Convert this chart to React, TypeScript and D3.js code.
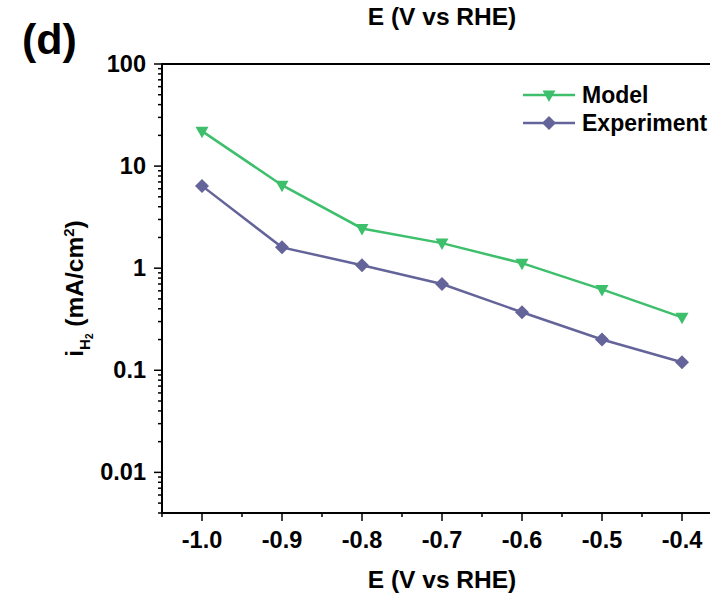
import React, { useEffect, useRef } from 'react';
import * as d3 from 'd3';

const potentials = [-1.0, -0.9, -0.8, -0.7, -0.6, -0.5, -0.4];
const modelValues = [22.0, 6.5, 2.45, 1.76, 1.12, 0.62, 0.33];
const experimentValues = [6.4, 1.6, 1.07, 0.7, 0.37, 0.2, 0.12];
const xTicks = [-1.0, -0.9, -0.8, -0.7, -0.6, -0.5, -0.4];
const yTicks = [0.01, 0.1, 1, 10, 100];
const yTickLabels = ['0.01', '0.1', '1', '10', '100'];

const App = () => {
  const svgRef = useRef<SVGSVGElement>(null);

  useEffect(() => {
    const width = 710;
    const height = 594;
    const green = '#3dbf6c';
    const purple = '#64649a';
    const font = '"Liberation Sans", Arial, sans-serif';

    const svg = d3.select(svgRef.current);
    svg.selectAll('*').remove();
    svg.attr('width', width).attr('height', height);

    const left = 162, right = 722, top = 64, bottom = 513;

    const x = d3.scaleLinear().domain([-1.05, -0.35]).range([left, right]);
    const y = d3.scaleLog().domain([0.004, 100]).range([bottom, top]);

    const g = svg.append('g');

    // frame lines (left, bottom, top)
    g.append('line').attr('x1', left).attr('x2', left).attr('y1', top).attr('y2', bottom)
      .attr('stroke', '#000').attr('stroke-width', 2);
    g.append('line').attr('x1', left - 1).attr('x2', right).attr('y1', bottom).attr('y2', bottom)
      .attr('stroke', '#000').attr('stroke-width', 2);
    g.append('line').attr('x1', left - 1).attr('x2', right).attr('y1', top).attr('y2', top)
      .attr('stroke', '#000').attr('stroke-width', 2);

    // y ticks
    const minorY: number[] = [];
    for (let e = -3; e < 2; e++) {
      for (let m = 2; m <= 9; m++) {
        const v = m * Math.pow(10, e);
        if (v >= 0.004 && v < 100) minorY.push(v);
      }
    }
    g.selectAll('.ymin').data(minorY).enter().append('line')
      .attr('x1', left - 4).attr('x2', left)
      .attr('y1', d => y(d)).attr('y2', d => y(d))
      .attr('stroke', '#000').attr('stroke-width', 1.5);
    g.selectAll('.ymaj').data(yTicks).enter().append('line')
      .attr('x1', left - 8).attr('x2', left)
      .attr('y1', d => y(d)).attr('y2', d => y(d))
      .attr('stroke', '#000').attr('stroke-width', 1.5);
    g.selectAll('.ylab').data(yTicks).enter().append('text')
      .attr('x', left - 16).attr('y', d => y(d) + 8)
      .attr('text-anchor', 'end')
      .style('font-family', font).style('font-weight', 'bold').style('font-size', '23.5px')
      .text((d, i) => yTickLabels[i]);

    // x ticks
    const minorX = xTicks.map(d => d - 0.05).concat([-0.35]);
    g.selectAll('.xmin').data(minorX).enter().append('line')
      .attr('x1', d => x(d)).attr('x2', d => x(d))
      .attr('y1', bottom).attr('y2', bottom + 4)
      .attr('stroke', '#000').attr('stroke-width', 1.5);
    g.selectAll('.xmaj').data(xTicks).enter().append('line')
      .attr('x1', d => x(d)).attr('x2', d => x(d))
      .attr('y1', bottom).attr('y2', bottom + 8)
      .attr('stroke', '#000').attr('stroke-width', 1.5);
    g.selectAll('.xlab').data(xTicks).enter().append('text')
      .attr('x', d => x(d)).attr('y', 548)
      .attr('text-anchor', 'middle')
      .style('font-family', font).style('font-weight', 'bold').style('font-size', '23.5px')
      .text(d => d3.format('.1f')(d).replace('−', '-'));

    // axis titles
    const mid = (left + right) / 2;
    g.append('text').attr('x', mid).attr('y', 588).attr('text-anchor', 'middle')
      .style('font-family', font).style('font-weight', 'bold').style('font-size', '24.5px')
      .text('E (V vs RHE)');
    g.append('text').attr('x', mid).attr('y', 25).attr('text-anchor', 'middle')
      .style('font-family', font).style('font-weight', 'bold').style('font-size', '24.5px')
      .text('E (V vs RHE)');

    const yl = g.append('text')
      .attr('transform', `translate(83, ${(top + bottom) / 2}) rotate(-90)`)
      .attr('text-anchor', 'middle')
      .style('font-family', font).style('font-weight', 'bold').style('font-size', '24.5px');
    yl.append('tspan').text('i');
    yl.append('tspan').attr('dy', 7).style('font-size', '15px').text('H');
    yl.append('tspan').attr('dy', 3).style('font-size', '10px').text('2');
    yl.append('tspan').attr('dy', -10).text(' (mA/cm');
    yl.append('tspan').attr('dy', -9).style('font-size', '15px').text('2');
    yl.append('tspan').attr('dy', 9).text(')');

    // panel label
    g.append('text').attr('x', 22).attr('y', 54)
      .style('font-family', font).style('font-weight', 'bold').style('font-size', '43px')
      .text('(d)');

    const line = d3.line<number>()
      .x((d, i) => x(potentials[i]))
      .y(d => y(d));

    const triangle = 'M-6.5,-4.5 L6.5,-4.5 L0,7 Z';
    const diamond = 'M0,-7 L7,0 L0,7 L-7,0 Z';

    const series = [
      { values: modelValues, color: green, shape: triangle, name: 'Model' },
      { values: experimentValues, color: purple, shape: diamond, name: 'Experiment' },
    ];

    series.forEach(s => {
      g.append('path').datum(s.values).attr('d', line)
        .attr('fill', 'none').attr('stroke', s.color).attr('stroke-width', 2.5);
      g.selectAll(null).data(s.values).enter().append('path')
        .attr('d', s.shape)
        .attr('transform', (d, i) => `translate(${x(potentials[i])},${y(d)})`)
        .attr('fill', s.color);
    });

    // legend
    series.forEach((s, i) => {
      const ly = 95 + i * 28;
      g.append('line').attr('x1', 523).attr('x2', 575).attr('y1', ly).attr('y2', ly)
        .attr('stroke', s.color).attr('stroke-width', 2.5);
      g.append('path').attr('d', s.shape).attr('transform', `translate(549,${ly})`).attr('fill', s.color);
      g.append('text').attr('x', 582).attr('y', ly + 8)
        .style('font-family', font).style('font-weight', 'bold').style('font-size', '23px')
        .text(s.name);
    });
  }, []);

  return (
    <svg ref={svgRef} style={{ position: 'absolute', left: 0, top: 0, display: 'block' }} />
  );
};

export default App;
